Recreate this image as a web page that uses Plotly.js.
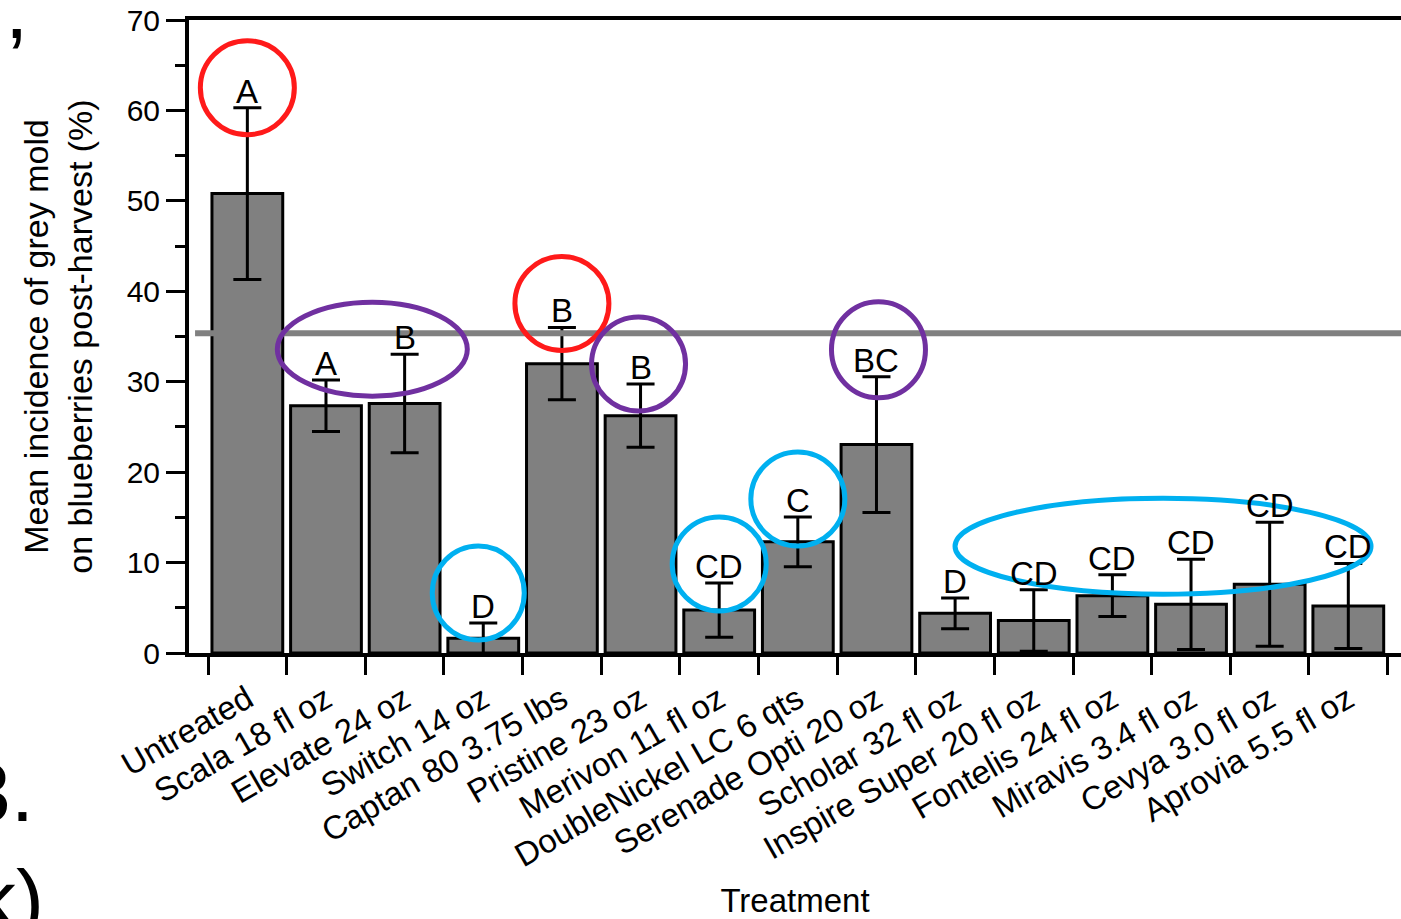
<!DOCTYPE html>
<html>
<head>
<meta charset="utf-8">
<script src="https://cdn.plot.ly/plotly-3.0.1.min.js"></script>
<style>
html,body{margin:0;padding:0;background:#fff;overflow:hidden;}
#chart{width:1401px;height:919px;}
</style>
</head>
<body>
<div id="chart"></div>
<script>
// ---- data ----
const treatments = ["Untreated","Scala 18 fl oz","Elevate 24 oz","Switch 14 oz","Captan 80 3.75 lbs","Pristine 23 oz","Merivon 11 fl oz","DoubleNickel LC 6 qts","Serenade Opti 20 oz","Scholar 32 fl oz","Inspire Super 20 fl oz","Fontelis 24 fl oz","Miravis 3.4 fl oz","Cevya 3.0 fl oz","Aprovia 5.5 fl oz"];
const meanIncidence = [50.8, 27.35, 27.6, 1.62, 32.0, 26.25, 4.75, 12.3, 23.05, 4.39, 3.6, 6.34, 5.38, 7.6, 5.2];
const errorValues = [9.5, 2.85, 5.45, 1.7, 4.0, 3.5, 3.0, 2.75, 7.5, 1.7, 3.4, 2.3, 5.0, 6.85, 4.7];
const letters = ["A","A","B","D","B","B","CD","C","BC","D","CD","CD","CD","CD","CD"];
const referenceLine = 35.35;
const yTicks = [0,10,20,30,40,50,60,70];

// highlight groups (members are category indices)
const RED = "#FF1A1A", PURPLE = "#7030A0", CYAN = "#00B0F0";
const highlights = [
  {members:[0], color:RED, rx:47, ry:47, dx:0, dy:20},
  {members:[4], color:RED, rx:47, ry:47, dx:0, dy:24},
  {members:[1,2], color:PURPLE, rx:95, ry:47, dx:7, dy:5},
  {members:[5], color:PURPLE, rx:47, ry:47, dx:-2, dy:20},
  {members:[8], color:PURPLE, rx:47, ry:48, dx:2, dy:27},
  {members:[3], color:CYAN, rx:46, ry:47, dx:-5, dy:30},
  {members:[6], color:CYAN, rx:47, ry:47, dx:0, dy:19},
  {members:[7], color:CYAN, rx:47, ry:47, dx:0, dy:18},
  {members:[10,11,12,13,14], color:CYAN, rx:208, ry:48, dx:-28, dy:-24}
];

const FONT = "Liberation Sans, Arial, Helvetica, sans-serif";

const trace = {
  type:"bar",
  x:treatments,
  y:meanIncidence,
  marker:{color:"#808080", line:{color:"#000", width:3}},
  error_y:{type:"data", array:errorValues, visible:true, color:"#000", thickness:3, width:14},
  hoverinfo:"x+y"
};

const annotations = treatments.map((t,i)=>({
  x:t, y:meanIncidence[i]+errorValues[i], xref:"x", yref:"y",
  text:letters[i], showarrow:false, yanchor:"bottom", yshift:-4,
  font:{family:FONT, size:33, color:"#000"}
}));

// fragments of surrounding figure text at the left edge (cropped in the original)
annotations.push({xref:"paper", yref:"paper", x:0, y:1, xshift:-189+30, yshift:60, xanchor:"right", yanchor:"top", text:",", showarrow:false, font:{family:FONT, size:84, color:"#000"}});
annotations.push({xref:"paper", yref:"paper", x:0, y:0, xshift:-189+36, yshift:-90, xanchor:"right", yanchor:"top", text:"3.", showarrow:false, font:{family:FONT, size:84, color:"#000"}});
annotations.push({xref:"paper", yref:"paper", x:0, y:0, xshift:-189+46, yshift:-198, xanchor:"right", yanchor:"top", text:"k)", showarrow:false, font:{family:FONT, size:84, color:"#000"}});

const shapes = [];
shapes.push({type:"line", xref:"paper", yref:"y", x0:0.005, x1:1, y0:referenceLine, y1:referenceLine, line:{color:"#808080", width:6}, layer:"above"});
highlights.forEach(h=>{
  const xa = h.members.reduce((a,b)=>a+b,0)/h.members.length;
  const ya = Math.max(...h.members.map(i=>meanIncidence[i]+errorValues[i]));
  shapes.push({type:"circle", xref:"x", yref:"y", xsizemode:"pixel", ysizemode:"pixel",
    xanchor:xa, yanchor:ya, x0:h.dx-h.rx, x1:h.dx+h.rx, y0:h.dy-h.ry, y1:h.dy+h.ry,
    line:{color:h.color, width:5}, layer:"above"});
});

const layout = {
  width:1401, height:919,
  margin:{l:189, r:0, t:20, b:266, pad:0},
  paper_bgcolor:"#fff", plot_bgcolor:"#fff",
  showlegend:false,
  bargap:0.1,
  font:{family:FONT, size:34, color:"#000"},
  xaxis:{
    type:"category", range:[-0.742, 14.67], tickson:"boundaries",
    ticks:"outside", ticklen:18, tickwidth:3, tickcolor:"#000",
    showline:true, linewidth:4, linecolor:"#000", mirror:true,
    showgrid:false, zeroline:false, tickangle:-30, ticklabelstandoff:10,
    tickfont:{family:FONT, size:33, color:"#000"},
    title:{text:"Treatment", font:{family:FONT, size:33, color:"#000"}, standoff:18},
    automargin:false
  },
  yaxis:{
    range:[0,70], tickvals:yTicks, ticks:"outside", ticklen:19, tickwidth:3, tickcolor:"#000",
    minor:{dtick:5, ticks:"outside", ticklen:10, tickwidth:3, tickcolor:"#000", showgrid:false},
    showline:true, linewidth:4, linecolor:"#000",
    showgrid:false, zeroline:false,
    tickfont:{family:FONT, size:30, color:"#000"},
    title:{text:"Mean incidence of grey mold<br>on blueberries post-harvest (%)", font:{family:FONT, size:34, color:"#000"}, standoff:25},
    automargin:false
  },
  annotations:annotations,
  shapes:shapes
};

Plotly.newPlot("chart",[trace],layout,{displayModeBar:false, staticPlot:true});
</script>
</body>
</html>
